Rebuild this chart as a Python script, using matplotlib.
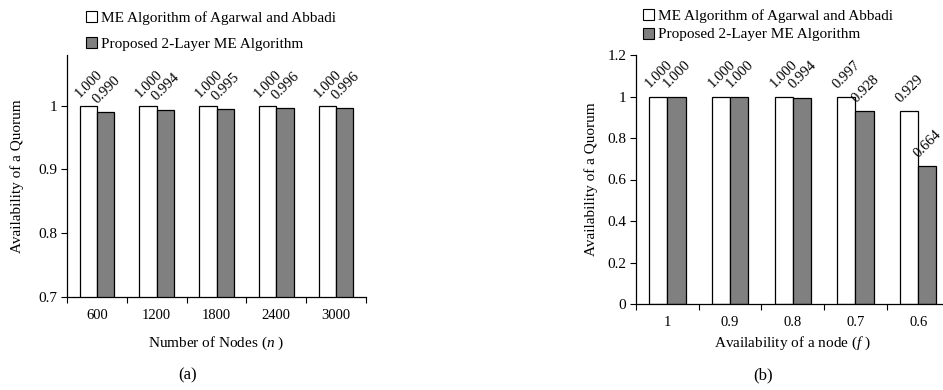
import numpy as np
import matplotlib
matplotlib.use("Agg")
import matplotlib.pyplot as plt
from matplotlib.patches import Patch

plt.rcParams['font.family'] = ['Liberation Serif', 'DejaVu Serif']
plt.rcParams['mathtext.fontset'] = 'custom'
plt.rcParams['mathtext.rm'] = 'Liberation Serif'
plt.rcParams['mathtext.it'] = 'Liberation Serif:italic'
plt.rcParams['font.size'] = 10.5

# data
nodes = ['600', '1200', '1800', '2400', '3000']
agarwal_a = [1.000, 1.000, 1.000, 1.000, 1.000]
proposed_a = [0.990, 0.994, 0.995, 0.996, 0.996]

node_avail = ['1', '0.9', '0.8', '0.7', '0.6']
agarwal_b = [1.000, 1.000, 1.000, 0.997, 0.929]
proposed_b = [1.000, 1.000, 0.994, 0.928, 0.664]

series_names = ['ME Algorithm of Agarwal and Abbadi', 'Proposed 2-Layer ME Algorithm']

W, H = 943, 390
fig = plt.figure(figsize=(W / 100, H / 100), dpi=100)


def px(x0, y0, x1, y1):
    # pixel box -> figure fraction rect
    return [x0 / W, 1 - y1 / H, (x1 - x0) / W, (y1 - y0) / H]


def draw(ax, cats, s1, s2, ylim, yticks, ytlabels, xlabel):
    x = np.arange(len(cats))
    bw = 0.29
    ax.bar(x - bw / 2, s1, bw, color='white', edgecolor='black', linewidth=0.9)
    ax.bar(x + bw / 2, s2, bw, color='#808080', edgecolor='black', linewidth=0.9)
    for xi, v in zip(x - bw / 2, s1):
        ax.annotate(f'{v:.3f}', (xi, v), xytext=(0.5, 4.5), textcoords='offset points',
                    rotation=45, ha='center', va='bottom', fontsize=10.5)
    for xi, v in zip(x + bw / 2, s2):
        ax.annotate(f'{v:.3f}', (xi, v), xytext=(0.5, 4.5), textcoords='offset points',
                    rotation=45, ha='center', va='bottom', fontsize=10.5)
    ax.set_xlim(-0.5, len(cats) - 0.5)
    ax.set_ylim(*ylim)
    ax.set_yticks(yticks)
    ax.set_yticklabels(ytlabels)
    ax.set_xticks(x)
    ax.set_xticklabels(cats)
    ax.set_xticks(np.arange(len(cats) + 1) - 0.5, minor=True)
    ax.tick_params(axis='x', which='major', length=0, pad=9, labelsize=10.5)
    ax.tick_params(axis='x', which='minor', length=4, direction='out', width=0.8)
    ax.tick_params(axis='y', length=4, direction='out', width=0.8, pad=3, labelsize=11)
    for s in ['top', 'right']:
        ax.spines[s].set_visible(False)
    for s in ['left', 'bottom']:
        ax.spines[s].set_linewidth(0.9)
    ax.set_xlabel(xlabel, fontsize=11)
    ax.set_ylabel('Availability of a Quorum', fontsize=11)


handles = [Patch(facecolor='white', edgecolor='black', linewidth=0.8),
           Patch(facecolor='#808080', edgecolor='black', linewidth=0.8)]

# panel (a)
ax1 = fig.add_axes(px(67, 55, 366, 296.7))
draw(ax1, nodes, agarwal_a, proposed_a, (0.7, 1.08),
     [0.7, 0.8, 0.9, 1.0], ['0.7', '0.8', '0.9', '1'],
     'Number of Nodes ($\\mathit{n}$ )')
ax1.xaxis.labelpad = 9
ax1.yaxis.labelpad = 10
fig.legend(handles, series_names, loc='upper left', bbox_to_anchor=(86 / W, 1 - 11 / H),
           frameon=False, borderpad=0, handlelength=0.75, handleheight=0.75,
           handletextpad=0.2, labelspacing=0.8, fontsize=11, borderaxespad=0)
fig.text(188 / W, 1 - 375 / H, '(a)', ha='center', va='center', fontsize=12)

# panel (b)
ax2 = fig.add_axes(px(636, 55, 636 + 5 * 62.7, 304))
draw(ax2, node_avail, agarwal_b, proposed_b, (0, 1.2),
     [0, 0.2, 0.4, 0.6, 0.8, 1.0, 1.2], ['0', '0.2', '0.4', '0.6', '0.8', '1', '1.2'],
     'Availability of a node ($\\mathit{f}$ )')
ax2.xaxis.labelpad = 4
ax2.yaxis.labelpad = 6.5
fig.legend(handles, series_names, loc='upper left', bbox_to_anchor=(643 / W, 1 - 9 / H),
           frameon=False, borderpad=0, handlelength=0.75, handleheight=0.75,
           handletextpad=0.2, labelspacing=0.3, fontsize=11, borderaxespad=0)
fig.text(763 / W, 1 - 375 / H, '(b)', ha='center', va='center', fontsize=12)

fig.savefig('out.png', dpi=100)
